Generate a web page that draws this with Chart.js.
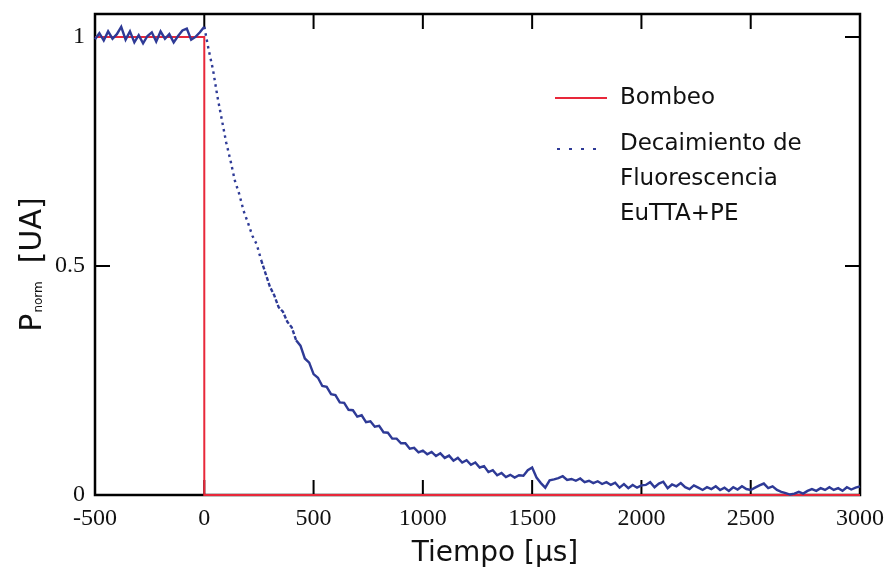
<!DOCTYPE html>
<html>
<head>
<meta charset="utf-8">
<script src="https://cdn.jsdelivr.net/npm/chart.js@4.4.1/dist/chart.umd.min.js"></script>
<style>
  html, body { margin: 0; padding: 0; background: #ffffff; }
  #wrap { width: 888px; height: 573px; position: relative; }
</style>
</head>
<body>
<div id="wrap"><canvas id="c" width="888" height="573"></canvas></div>
<script>
// ---- data ----
const decayTimes = [
  -500,-480,-460,-440,-420,-400,-380,-360,-340,-320,
  -300,-280,-260,-240,-220,-200,-180,-160,-140,-120,
  -100,-80,-60,-40,-20,0,20,40,60,80,
  100,120,140,160,180,200,220,240,260,280,
  300,320,340,360,380,400,420,440,460,480,
  500,520,540,560,580,600,620,640,660,680,
  700,720,740,760,780,800,820,840,860,880,
  900,920,940,960,980,1000,1020,1040,1060,1080,
  1100,1120,1140,1160,1180,1200,1220,1240,1260,1280,
  1300,1320,1340,1360,1380,1400,1420,1440,1460,1480,
  1500,1520,1540,1560,1580,1600,1620,1640,1660,1680,
  1700,1720,1740,1760,1780,1800,1820,1840,1860,1880,
  1900,1920,1940,1960,1980,2000,2020,2040,2060,2080,
  2100,2120,2140,2160,2180,2200,2220,2240,2260,2280,
  2300,2320,2340,2360,2380,2400,2420,2440,2460,2480,
  2500,2520,2540,2560,2580,2600,2620,2640,2660,2680,
  2700,2720,2740,2760,2780,2800,2820,2840,2860,2880,
  2900,2920,2940,2960,2980,3000
];
const decayValues = [
  0.995,1.008,0.992,1.012,0.996,1.006,1.022,0.994,1.012,0.988,
  1.004,0.986,1.002,1.010,0.990,1.012,0.996,1.006,0.988,1.002,
  1.014,1.018,0.994,1.000,1.010,1.022,0.972,0.928,0.870,0.820,
  0.770,0.730,0.686,0.657,0.620,0.594,0.566,0.547,0.513,0.484,
  0.455,0.436,0.410,0.400,0.378,0.366,0.338,0.326,0.298,0.289,
  0.264,0.256,0.238,0.236,0.220,0.218,0.202,0.201,0.186,0.185,
  0.171,0.174,0.159,0.161,0.149,0.151,0.137,0.136,0.123,0.123,
  0.113,0.113,0.101,0.103,0.093,0.097,0.089,0.094,0.085,0.091,
  0.081,0.086,0.075,0.081,0.071,0.076,0.066,0.071,0.060,0.063,
  0.050,0.054,0.043,0.048,0.039,0.044,0.038,0.043,0.042,0.054,
  0.060,0.038,0.026,0.016,0.032,0.034,0.037,0.041,0.033,0.035,
  0.031,0.036,0.028,0.031,0.026,0.030,0.024,0.028,0.022,0.027,
  0.016,0.024,0.015,0.022,0.016,0.021,0.022,0.028,0.017,0.025,
  0.029,0.015,0.023,0.019,0.026,0.017,0.013,0.021,0.016,0.011,
  0.017,0.013,0.019,0.011,0.016,0.009,0.017,0.012,0.019,0.013,
  0.011,0.016,0.021,0.025,0.015,0.019,0.011,0.007,0.004,0.001,
  0.003,0.007,0.003,0.009,0.013,0.009,0.015,0.011,0.017,0.011,
  0.015,0.009,0.017,0.012,0.016,0.019
];
const pumpTimes  = [-500, 0, 0, 3000];
const pumpValues = [1, 1, 0, 0];

const xTickValues = [-500, 0, 500, 1000, 1500, 2000, 2500, 3000];
const yTickValues = [0, 0.5, 1];
const yTickLabels = ['0', '0.5', '1'];

const seriesNames = ['Bombeo', ['Decaimiento de', 'Fluorescencia', 'EuTTA+PE']];
const xTitle = 'Tiempo [\u03BCs]';
const yTitleMain = 'P';
const yTitleSub = 'norm';
const yTitleRest = '[UA]';

const toXY = (xs, ys) => xs.map((x, i) => ({ x: x, y: ys[i] }));

const RED = '#e8283a';
const BLUE = '#2e3a96';

// frame + inward ticks + legend + axis titles
const decorPlugin = {
  id: 'decor',
  beforeDatasetsDraw(chart) {
    const { ctx, chartArea: a, scales } = chart;
    ctx.save();
    ctx.strokeStyle = '#000';
    ctx.lineWidth = 2.5;
    ctx.strokeRect(a.left, a.top, a.right - a.left, a.bottom - a.top);
    ctx.lineWidth = 2;
    const L = 15;
    xTickValues.forEach(v => {
      if (v <= -500 || v >= 3000) return;
      const px = scales.x.getPixelForValue(v);
      ctx.beginPath();
      ctx.moveTo(px, a.bottom); ctx.lineTo(px, a.bottom - L);
      ctx.moveTo(px, a.top); ctx.lineTo(px, a.top + L);
      ctx.stroke();
    });
    yTickValues.forEach(v => {
      if (v <= 0) return;
      const py = scales.y.getPixelForValue(v);
      ctx.beginPath();
      ctx.moveTo(a.left, py); ctx.lineTo(a.left + L, py);
      ctx.moveTo(a.right, py); ctx.lineTo(a.right - L, py);
      ctx.stroke();
    });
    ctx.restore();
  },
  afterDraw(chart) {
    const { ctx } = chart;
    ctx.save();
    // legend
    ctx.strokeStyle = RED;
    ctx.lineWidth = 2;
    ctx.beginPath(); ctx.moveTo(555, 98); ctx.lineTo(607, 98); ctx.stroke();
    ctx.strokeStyle = BLUE;
    ctx.setLineDash([3, 9]);
    ctx.lineWidth = 2;
    ctx.beginPath(); ctx.moveTo(557, 149); ctx.lineTo(604, 149); ctx.stroke();
    ctx.setLineDash([]);
    ctx.fillStyle = '#111';
    ctx.font = '23px "DejaVu Sans"';
    ctx.textBaseline = 'middle';
    ctx.textAlign = 'left';
    ctx.fillText(seriesNames[0], 620, 98);
    seriesNames[1].forEach((t, i) => ctx.fillText(t, 620, 144 + i * 35));

    // x title
    ctx.font = '28px "DejaVu Sans"';
    ctx.textAlign = 'center';
    ctx.fillText(xTitle, 495, 554);

    // y title with subscript
    ctx.textAlign = 'left';
    ctx.translate(41, 265);
    ctx.rotate(-Math.PI / 2);
    ctx.textBaseline = 'alphabetic';
    const fMain = '30px "DejaVu Sans"';
    const fSub = '12px "DejaVu Sans"';
    ctx.font = fMain; const wP = ctx.measureText(yTitleMain).width;
    const wR = ctx.measureText(yTitleRest).width;
    ctx.font = fSub; const wS = ctx.measureText(yTitleSub).width;
    const gap = 18;
    const total = wP + wS + gap + wR;
    let x0 = -total / 2;
    ctx.font = fMain; ctx.fillText(yTitleMain, x0, 0);
    x0 += wP + 1;
    ctx.font = fSub; ctx.fillText(yTitleSub, x0, 1);
    x0 += wS + gap;
    ctx.font = fMain; ctx.fillText(yTitleRest, x0, 0);
    ctx.restore();
  }
};

new Chart(document.getElementById('c'), {
  type: 'line',
  data: {
    datasets: [
      {
        label: 'Decaimiento de Fluorescencia EuTTA+PE',
        data: toXY(decayTimes, decayValues),
        borderColor: BLUE,
        borderWidth: 2.4,
        pointRadius: 0,
        tension: 0,
        order: 0,
        segment: {
          borderDash: c => {
            const x0 = c.p0.parsed.x, x1 = c.p1.parsed.x;
            if (x0 >= 0 && x1 <= 260) return [2.5, 4];
            if (x0 >= 260 && x1 <= 420) return [4, 2];
            return undefined;
          }
        }
      },
      {
        label: 'Bombeo',
        data: toXY(pumpTimes, pumpValues),
        borderColor: RED,
        borderWidth: 2,
        pointRadius: 0,
        tension: 0,
        order: 1
      }
    ]
  },
  options: {
    responsive: false,
    animation: false,
    clip: false,
    layout: { padding: { top: 14, right: 28, left: 0, bottom: 0 } },
    plugins: { legend: { display: false }, tooltip: { enabled: false } },
    scales: {
      x: {
        type: 'linear',
        min: -500, max: 3000,
        afterBuildTicks: s => { s.ticks = xTickValues.map(v => ({ value: v })); },
        afterFit: s => { s.height = 78; },
        grid: { display: false, drawTicks: false },
        border: { display: false },
        ticks: {
          padding: 3,
          color: '#111',
          font: { family: '"Liberation Serif"', size: 24, lineHeight: 1.74 },
          callback: v => String(v)
        }
      },
      y: {
        type: 'linear',
        min: 0, max: 1.05,
        afterBuildTicks: s => { s.ticks = yTickValues.map(v => ({ value: v })); },
        afterFit: s => { s.width = 95; },
        grid: { display: false, drawTicks: false },
        border: { display: false },
        ticks: {
          padding: 10,
          color: '#111',
          font: { family: '"Liberation Serif"', size: 24, lineHeight: 0.3 },
          callback: v => yTickLabels[yTickValues.indexOf(v)]
        }
      }
    }
  },
  plugins: [decorPlugin]
});
</script>
</body>
</html>
